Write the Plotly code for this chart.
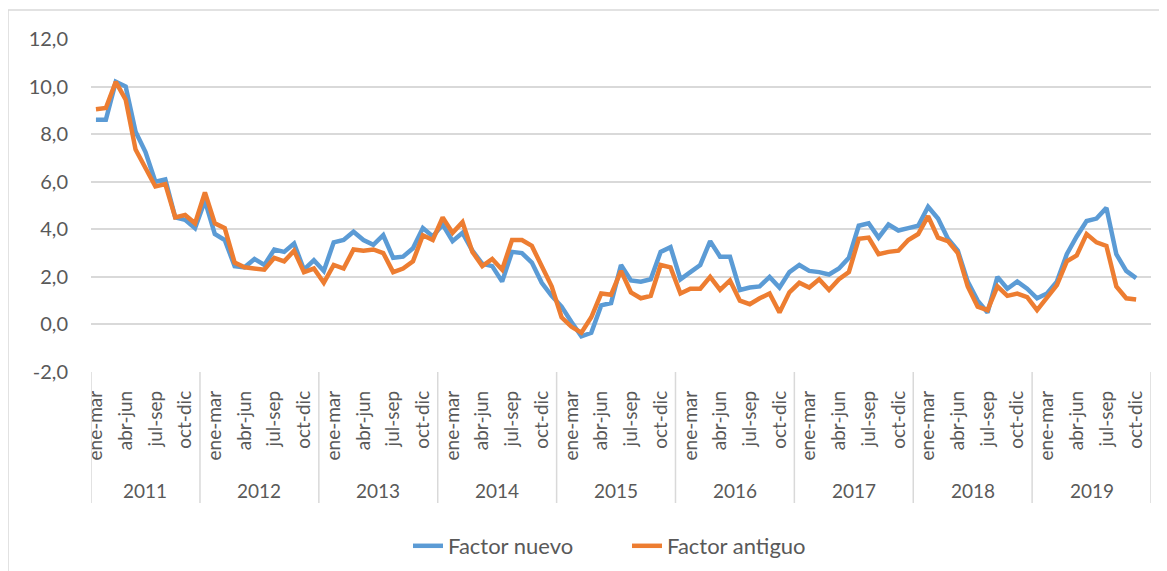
import plotly.graph_objects as go

years = ["2011", "2012", "2013", "2014", "2015", "2016", "2017", "2018", "2019"]
months_first_year = ["ene-mar", "feb-abr", "mar-may", "abr-jun", "may-jul", "jun-ago",
                     "jul-sep", "ago-oct", "sep-nov", "oct-dic", "nov-ene"]
months_other_years = ["dic-feb", "ene-mar", "feb-abr", "mar-may", "abr-jun", "may-jul",
                      "jun-ago", "jul-sep", "ago-oct", "sep-nov", "oct-dic", "nov-ene"]

factor_nuevo = [
    8.6, 8.6, 10.2, 10.0, 8.1, 7.25, 6.0, 6.1, 4.5, 4.4, 4.05,
    5.2, 3.8, 3.55, 2.45, 2.4, 2.75, 2.5, 3.15, 3.05, 3.4, 2.3, 2.7,
    2.25, 3.45, 3.55, 3.9, 3.55, 3.35, 3.75, 2.8, 2.85, 3.2, 4.05, 3.7,
    4.2, 3.5, 3.85, 3.1, 2.55, 2.45, 1.8, 3.05, 3.0, 2.6, 1.75, 1.2,
    0.75, 0.1, -0.5, -0.35, 0.8, 0.9, 2.5, 1.85, 1.8, 1.9, 3.05, 3.25,
    1.9, 2.2, 2.5, 3.5, 2.85, 2.85, 1.45, 1.55, 1.6, 2.0, 1.55, 2.2,
    2.5, 2.25, 2.2, 2.1, 2.35, 2.8, 4.15, 4.25, 3.65, 4.2, 3.95, 4.05,
    4.15, 4.95, 4.45, 3.6, 3.1, 1.8, 1.0, 0.5, 2.0, 1.5, 1.8, 1.5,
    1.1, 1.3, 1.8, 2.95, 3.7, 4.35, 4.45, 4.9, 2.95, 2.25, 1.95, None,
]
factor_antiguo = [
    9.05, 9.1, 10.2, 9.45, 7.35, 6.6, 5.8, 5.9, 4.5, 4.6, 4.25,
    5.55, 4.25, 4.05, 2.6, 2.4, 2.35, 2.3, 2.8, 2.65, 3.1, 2.2, 2.35,
    1.75, 2.5, 2.35, 3.15, 3.1, 3.15, 3.0, 2.2, 2.35, 2.65, 3.75, 3.55,
    4.5, 3.85, 4.3, 3.05, 2.45, 2.75, 2.3, 3.55, 3.55, 3.3, 2.4, 1.6,
    0.3, -0.1, -0.35, 0.3, 1.3, 1.25, 2.25, 1.35, 1.1, 1.2, 2.5, 2.4,
    1.3, 1.5, 1.5, 2.0, 1.45, 1.85, 1.0, 0.85, 1.1, 1.3, 0.5, 1.35,
    1.75, 1.55, 1.9, 1.45, 1.9, 2.2, 3.6, 3.65, 2.95, 3.05, 3.1, 3.55,
    3.8, 4.55, 3.65, 3.5, 3.0, 1.6, 0.75, 0.6, 1.6, 1.2, 1.3, 1.15,
    0.6, 1.1, 1.65, 2.65, 2.9, 3.8, 3.45, 3.3, 1.6, 1.1, 1.05, None,
]
y_ticks = [-2, 0, 2, 4, 6, 8, 10, 12]
y_ticktext = ["-2,0", "0,0", "2,0", "4,0", "6,0", "8,0", "10,0", "12,0"]

# Build category axis
cat_month, cat_year = [], []
for i, yr in enumerate(years):
    ms = months_first_year if i == 0 else months_other_years
    for m in ms:
        cat_month.append(m)
        cat_year.append(yr)
n = len(cat_month)
xs = list(range(n))

tickvals = [i for i in xs if i % 3 == 0]
ticktext = [cat_month[i] for i in tickvals]

# year group boundaries
bounds = [-0.5]
for yr in years:
    last = max(i for i in xs if cat_year[i] == yr)
    bounds.append(last + 0.5)

GRID = "#d9d9d9"
TXT = "#595959"
FONT = "Lato, 'Open Sans', sans-serif"

fig = go.Figure()
fig.add_trace(go.Scatter(x=xs, y=factor_nuevo, mode="lines", name="Factor nuevo",
                         line=dict(color="#5B9BD5", width=4.5),
                         text=[f"{m} {y}" for m, y in zip(cat_month, cat_year)]))
fig.add_trace(go.Scatter(x=xs, y=factor_antiguo, mode="lines", name="Factor antiguo",
                         line=dict(color="#ED7D31", width=4.5),
                         text=[f"{m} {y}" for m, y in zip(cat_month, cat_year)]))

# The page body adds an 8px offset; size the figure so the visible picture lines up.
OFF = 8
W, H = 1167 - OFF, 571 - OFF
L, R, T, B = 91 - OFF, 16, 39 - OFF, 199
pw, ph = W - L - R, H - T - B

def px_to_paper_x(px):
    return (px - OFF - L) / pw

def py_to_paper_y(py):
    return (H - B - (py - OFF)) / ph

shapes = []
# outer chart border
shapes.append(dict(type="rect", xref="paper", yref="paper",
                   x0=px_to_paper_x(8), x1=px_to_paper_x(1162),
                   y0=py_to_paper_y(590), y1=py_to_paper_y(10),
                   line=dict(color="#d9d9d9", width=1.5), fillcolor="rgba(0,0,0,0)", layer="below"))
# year separators
for b in bounds:
    shapes.append(dict(type="line", xref="x", yref="paper", x0=b, x1=b,
                       y0=py_to_paper_y(372), y1=py_to_paper_y(503),
                       line=dict(color=GRID, width=1.5)))

annotations = []
for i, yr in enumerate(years):
    cx = (bounds[i] + bounds[i + 1]) / 2
    annotations.append(dict(x=cx, xref="x", y=py_to_paper_y(490), yref="paper",
                            text=yr, showarrow=False, yanchor="middle",
                            font=dict(family=FONT, size=19, color=TXT)))

fig.update_layout(
    width=W, height=H,
    margin=dict(l=L, r=R, t=T, b=B, pad=0, autoexpand=False),
    paper_bgcolor="white", plot_bgcolor="white",
    showlegend=True,
    legend=dict(orientation="h", x=px_to_paper_x(408), xanchor="left",
                y=py_to_paper_y(546), yanchor="middle",
                font=dict(family=FONT, size=22, color=TXT),
                entrywidth=174, entrywidthmode="pixels",
                traceorder="normal"),
    xaxis=dict(range=[-0.5, n - 0.5], tickmode="array", tickvals=tickvals, ticktext=ticktext,
               tickangle=-90, showgrid=False, zeroline=False, showline=False,
               ticks="", ticklabelstandoff=14, automargin=False,
               tickfont=dict(family=FONT, size=19, color=TXT)),
    yaxis=dict(range=[-2, 12], tickmode="array", tickvals=y_ticks, ticktext=y_ticktext,
               showgrid=True, gridcolor=GRID, gridwidth=1.5, zeroline=False,
               showline=False, ticks="", ticklabelstandoff=22, automargin=False,
               tickfont=dict(family=FONT, size=20, color=TXT)),
    shapes=shapes, annotations=annotations,
)

fig.write_html("out.html")
